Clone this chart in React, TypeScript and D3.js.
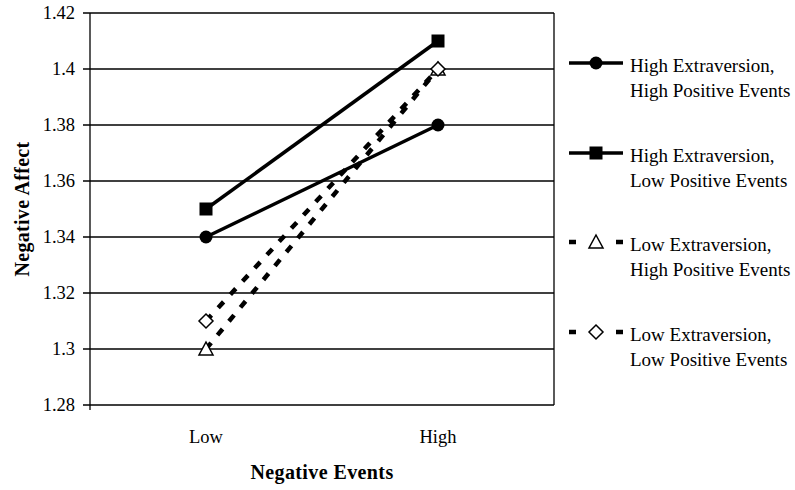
import React, { useEffect, useRef } from 'react';
import * as d3 from 'd3';

const categories = ['Low', 'High'];
const yTicks = [1.28, 1.3, 1.32, 1.34, 1.36, 1.38, 1.4, 1.42];

const seriesNames = [
  ['High Extraversion,', 'High Positive Events'],
  ['High Extraversion,', 'Low Positive Events'],
  ['Low Extraversion,', 'High Positive Events'],
  ['Low Extraversion,', 'Low Positive Events'],
];
const hiExtHiPos = [1.34, 1.38];
const hiExtLoPos = [1.35, 1.41];
const loExtHiPos = [1.3, 1.4];
const loExtLoPos = [1.31, 1.4];

const seriesValues = [hiExtHiPos, hiExtLoPos, loExtHiPos, loExtLoPos];
const markers = ['circle', 'square', 'triangle', 'diamond'];
const dashed = [false, false, true, true];

function App() {
  const svgRef = useRef<SVGSVGElement>(null);

  useEffect(() => {
    if (!svgRef.current) return;
    const width = 795;
    const height = 490;
    const margin = { top: 13, right: 241, bottom: 85, left: 90 };

    const svg = d3.select(svgRef.current);
    svg.selectAll('*').remove();
    svg.attr('width', width).attr('height', height).attr('viewBox', `0 0 ${width} ${height}`);

    svg.append('rect').attr('width', width).attr('height', height).attr('fill', '#fff');

    const x = d3.scaleBand()
      .domain(categories)
      .range([margin.left, width - margin.right]);
    const y = d3.scaleLinear()
      .domain([1.28, 1.42])
      .range([height - margin.bottom, margin.top]);

    const font = '"Liberation Serif", "Times New Roman", serif';

    // grid lines
    svg.append('g')
      .selectAll('line')
      .data(yTicks)
      .join('line')
      .attr('x1', margin.left - 7)
      .attr('x2', width - margin.right)
      .attr('y1', d => y(d))
      .attr('y2', d => y(d))
      .attr('stroke', '#000')
      .attr('stroke-width', 1.3);

    // axes lines
    svg.append('line')
      .attr('x1', margin.left).attr('x2', margin.left)
      .attr('y1', y(1.42)).attr('y2', y(1.28) + 5)
      .attr('stroke', '#000').attr('stroke-width', 1.3);
    svg.append('line')
      .attr('x1', width - margin.right).attr('x2', width - margin.right)
      .attr('y1', y(1.42)).attr('y2', y(1.28))
      .attr('stroke', '#000').attr('stroke-width', 1.3);

    // y tick labels
    svg.append('g')
      .selectAll('text')
      .data(yTicks)
      .join('text')
      .attr('x', margin.left - 15)
      .attr('y', d => y(d))
      .attr('dy', '0.35em')
      .attr('text-anchor', 'end')
      .attr('font-family', font)
      .attr('font-size', 18.5)
      .text(d => d3.format('')(d));

    // x labels
    svg.append('g')
      .selectAll('text')
      .data(categories)
      .join('text')
      .attr('x', d => (x(d) as number) + x.bandwidth() / 2)
      .attr('y', y(1.28) + 38)
      .attr('text-anchor', 'middle')
      .attr('font-family', font)
      .attr('font-size', 18.5)
      .text(d => d);

    svg.append('text')
      .attr('x', (margin.left + width - margin.right) / 2)
      .attr('y', 479)
      .attr('text-anchor', 'middle')
      .attr('font-family', font)
      .attr('font-size', 20)
      .attr('letter-spacing', 0.4)
      .attr('font-weight', 'bold')
      .text('Negative Events');

    svg.append('text')
      .attr('transform', `translate(29, ${(y(1.28) + y(1.42)) / 2}) rotate(-90)`)
      .attr('text-anchor', 'middle')
      .attr('font-family', font)
      .attr('font-size', 20)
      .attr('letter-spacing', 0.3)
      .attr('font-weight', 'bold')
      .text('Negative Affect');

    const drawMarker = (g: d3.Selection<SVGGElement, unknown, null, undefined>, type: string, cx: number, cy: number) => {
      if (type === 'circle') {
        g.append('circle').attr('cx', cx).attr('cy', cy).attr('r', 6.5).attr('fill', '#000');
      } else if (type === 'square') {
        g.append('rect').attr('x', cx - 6.5).attr('y', cy - 6.5).attr('width', 13).attr('height', 13).attr('fill', '#000');
      } else if (type === 'triangle') {
        g.append('path')
          .attr('d', `M${cx},${cy - 7} L${cx + 7},${cy + 6} L${cx - 7},${cy + 6} Z`)
          .attr('fill', '#fff').attr('stroke', '#000').attr('stroke-width', 1.5);
      } else {
        g.append('path')
          .attr('d', `M${cx},${cy - 7} L${cx + 7},${cy} L${cx},${cy + 7} L${cx - 7},${cy} Z`)
          .attr('fill', '#fff').attr('stroke', '#000').attr('stroke-width', 1.5);
      }
    };

    const line = d3.line<number>()
      .x((_, i) => (x(categories[i]) as number) + x.bandwidth() / 2)
      .y(d => y(d));

    seriesValues.forEach((vals, si) => {
      const g = svg.append('g');
      g.append('path')
        .attr('d', line(vals))
        .attr('fill', 'none')
        .attr('stroke', '#000')
        .attr('stroke-width', dashed[si] ? 4.5 : 3.5)
        .attr('stroke-dasharray', dashed[si] ? '8,10' : null);
      vals.forEach((v, i) => {
        drawMarker(g, markers[si], (x(categories[i]) as number) + x.bandwidth() / 2, y(v));
      });
    });

    // legend
    const legendY = [63, 153, 242, 332];
    seriesNames.forEach((names, si) => {
      const g = svg.append('g');
      const ly = legendY[si];
      if (dashed[si]) {
        g.append('line').attr('x1', 569).attr('x2', 576).attr('y1', ly).attr('y2', ly)
          .attr('stroke', '#000').attr('stroke-width', 4.5);
        g.append('line').attr('x1', 616).attr('x2', 623).attr('y1', ly).attr('y2', ly)
          .attr('stroke', '#000').attr('stroke-width', 4.5);
      } else {
        g.append('line').attr('x1', 569).attr('x2', 623).attr('y1', ly).attr('y2', ly)
          .attr('stroke', '#000').attr('stroke-width', 3.5);
      }
      drawMarker(g, markers[si], 596, ly);
      names.forEach((n, j) => {
        g.append('text')
          .attr('x', 630)
          .attr('y', ly + 9 + j * 24.5)
          .attr('font-family', font)
          .attr('font-size', 19)
          .text(n);
      });
    });
  }, []);

  return <svg ref={svgRef} style={{ display: 'block', position: 'absolute', left: 0, top: 0 }} />;
}

export default App;
